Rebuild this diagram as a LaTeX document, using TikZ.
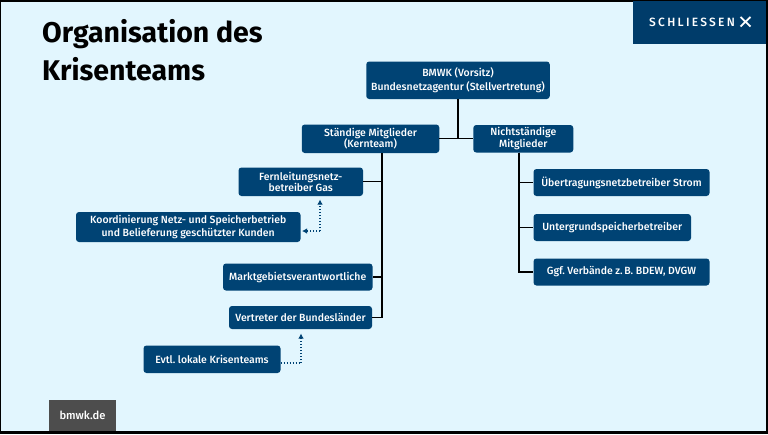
\documentclass[tikz,border=0pt]{standalone}
\usepackage{fontspec}
\setmainfont{Fira Sans}
\newfontfamily\boxfont{Fira Sans Medium}
\newfontfamily\spacedfont{Fira Sans Medium}[LetterSpace=19]
\usetikzlibrary{arrows.meta}
\definecolor{bgblue}{HTML}{E2F6FE}
\definecolor{boxblue}{HTML}{004374}
\definecolor{closeblue}{HTML}{003C6A}
\definecolor{greybox}{HTML}{4D4D4D}
\frenchspacing
\tikzset{
  x=1pt,y=-1pt,
  orgbox/.style={fill=boxblue,rounded corners=3pt,text=white,align=center,inner sep=0pt,
    font=\boxfont\fontsize{10.45}{14}\selectfont},
  tightbox/.style={orgbox,font=\boxfont\fontsize{10.45}{11.6}\selectfont},
  midbox/.style={orgbox,font=\boxfont\fontsize{10.45}{13}\selectfont},
  link/.style={draw=black,line width=1.2pt},
  dotlink/.style={draw=boxblue,line width=1.2pt,dash pattern=on 1.3pt off 1.7pt},
  dotarrow/.style={dotlink,-{Latex[length=5pt,width=5.5pt]}},
}
\begin{document}
\begin{tikzpicture}
\useasboundingbox (0,0) rectangle (768,434);
\fill[black] (0,0) rectangle (768,434);
\fill[bgblue] (1,1.5) rectangle (766,431);
% title
\node[anchor=north west,inner sep=0pt,align=left,font=\fontsize{28.5}{38}\selectfont\bfseries] (title) at (42,19) {Organisation des\\Krisenteams};
% close button
\node[fill=closeblue,minimum width=133pt,minimum height=43pt,inner sep=0pt] (close) at (699.75,22) {};
\node[anchor=west,inner sep=0pt,text=white,font=\spacedfont\fontsize{12}{14}\selectfont] (closetxt) at (649,22.5) {SCHLIESSEN};
\draw[white,line width=1.8pt] (740.5,17) -- (750.5,26.5) (750.5,17) -- (740.5,26.5);
% footer
\node[fill=greybox,minimum width=67pt,minimum height=31.5pt,inner sep=0pt,text=white,font=\boxfont\fontsize{11.2}{13}\selectfont] (web) at (82.5,415.25) {bmwk.de};
% boxes
\node[orgbox,minimum width=183.5pt,minimum height=37.5pt] (bmwk) at (458,80.25) {BMWK (Vorsitz)\\Bundesnetzagentur (Stellvertretung)};
\node[tightbox,minimum width=137.5pt,minimum height=28.5pt] (st) at (370.5,138.75) {St\"andige Mitglieder\\(Kernteam)};
\node[tightbox,minimum width=100pt,minimum height=27.5pt] (nt) at (523.3,138.75) {Nichtst\"andige\\Mitglieder};
\node[tightbox,minimum width=124.5pt,minimum height=28.5pt] (fern) at (300.75,181.75) {Fernleitungsnetz-\\betreiber Gas};
\node[midbox,minimum width=224.5pt,minimum height=30pt] (koord) at (188.25,227) {Koordinierung Netz- und Speicherbetrieb\\und Belieferung gesch\"utzter Kunden};
\node[orgbox,minimum width=149.5pt,minimum height=27pt] (markt) at (297.75,277) {Marktgebietsverantwortliche};
\node[orgbox,minimum width=143pt,minimum height=23pt] (vertr) at (300.5,317.5) {Vertreter der Bundesl\"ander};
\node[orgbox,minimum width=137pt,minimum height=27.5pt] (evtl) at (212,359.25) {Evtl. lokale Krisenteams};
\node[orgbox,minimum width=176pt,minimum height=27pt] (ueb) at (621.5,182.5) {\"Ubertragungsnetzbetreiber Strom};
\node[orgbox,minimum width=157.5pt,minimum height=27pt] (unter) at (612.25,227.5) {Untergrundspeicherbetreiber};
\node[orgbox,minimum width=176pt,minimum height=27pt] (ggf) at (621.5,272) {Ggf. Verb\"ande z.\,B. BDEW, DVGW};
% connector anchors
\coordinate (ktop) at (382,153);
\coordinate (ntop) at (519,152.5);
\coordinate (kbend) at (320,231);
\coordinate (ebend) at (301,363);
\coordinate (ftip) at (320,199.5);
\coordinate (vtip) at (301,333.5);
\coordinate (ktip) at (302,231);
% solid connectors
\draw[link] (bmwk.south) -- (bmwk.south |- st.east);
\draw[link] (st.east) -- (nt.west);
\draw[link] (ktop) |- (fern.east);
\draw[link] (ktop) |- (markt.east);
\draw[link] (ktop) |- (vertr.east);
\draw[link] (ntop) |- (ueb.west);
\draw[link] (ntop) |- (unter.west);
\draw[link] (ntop) |- (ggf.west);
% dotted connectors
\draw[dotarrow] (kbend) -- (ftip);
\draw[dotarrow] (kbend) -- (ktip);
\draw[dotlink] (evtl.east |- ebend) -- (ebend);
\draw[dotarrow] (ebend) -- (vtip);
\end{tikzpicture}
\end{document}
